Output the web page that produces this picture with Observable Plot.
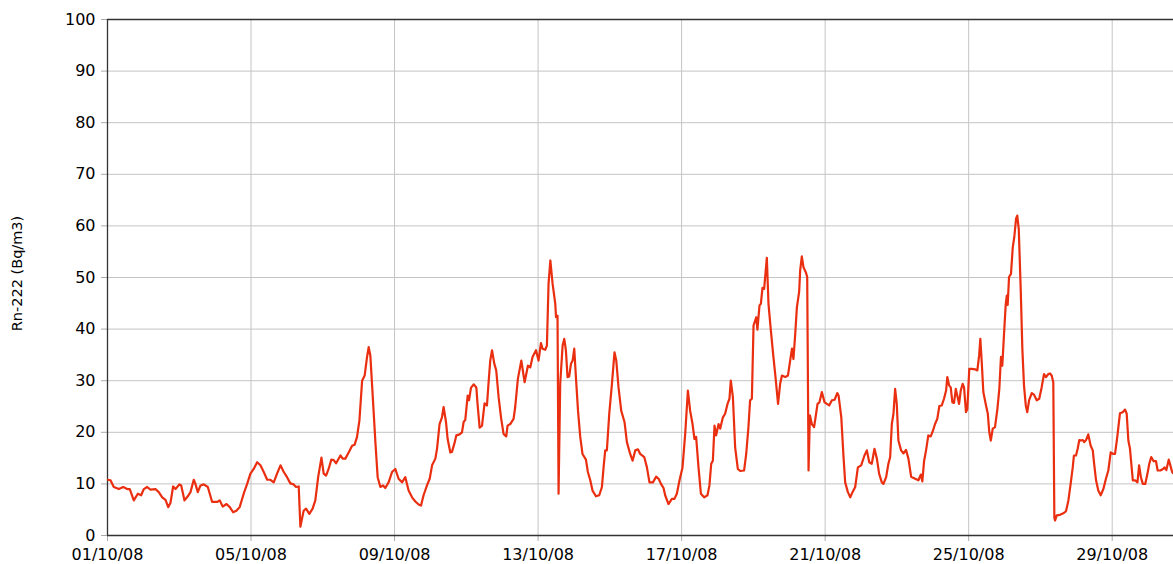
<!DOCTYPE html>
<html><head><meta charset="utf-8">
<script src="https://cdn.jsdelivr.net/npm/d3@7"></script>
<script src="https://cdn.jsdelivr.net/npm/@observablehq/plot@0.6"></script>
<style>html,body{margin:0;padding:0;background:#fff}svg{display:block}</style>
</head><body><div id="chart"></div>
<script>
// hours since 01/10/08 00:00
const hours = [0,2,4.2,7.6,10.5,13.2,14.9,17.6,20.3,22.5,24.3,26.5,28.7,32.1,34.3,36.6,38.8,40.6,42.1,43.9,45.5,48.1,49.3,51.5,53.7,55.5,57.7,58.8,60.4,62.2,64.4,67.1,70,73.3,75.1,77.1,79.6,81.8,84,86.2,88.4,
91.1,93.4,95.6,97.8,100.1,102.3,104.5,106.8,109,111.2,113.4,115.7,117.9,120.1,122.3,124.5,126.1,127.9,129,131.2,132.8,135,137.2,139,140.9,143.1,144.6,146.2,147.9,149.7,151.3,152.9,155.8,157.3,159.1,161.3,163.6,165.3,166.9,168.5,170.3,172,173.6,174.7,175.8,177.4,179.2,
180.7,182.5,184.3,185.8,188,190.3,192.5,194.7,197,199.2,201.4,203.7,205.9,208.1,209.7,211.4,213.7,215.5,217.1,219.3,220.4,222.1,223.7,224.8,226.4,227.5,229.3,230.4,232,233.3,235.5,237.1,238.2,239.3,240.9,241.8,243.1,244.9,246.7,247.5,248.9,250.5,252.2,253.8,254.9,256,257.2,258.7,260,261.6,263.2,264.9,266.7,267.6,269.4,
271.6,272.7,274.5,276.8,279,281.2,282.8,284.3,286.6,288.3,289.9,291,292.8,293.9,295,296.2,297.7,299.5,300,301,301.7,302.8,304.4,305.5,306.6,307.7,308.8,310,311.1,312.2,313.3,314.7,316.2,317.7,320,321.3,322.9,324.4,326.7,328.9,330.7,331.8,332.9,334,335.6,337.4,339.1,340.3,341.8,343.6,345.8,347.4,349.6,351.2,353,354.8,356.3,
359,360.8,362.5,364.8,367,368.6,370.2,371.9,373,375.2,377.5,379.2,380.8,382.6,384.6,386.4,388.2,389.7,391.3,392.6,393.7,395.3,396.9,399.1,401.3,402.6,403.8,404.9,406,407.1,408.7,409.8,411.6,413.1,414.7,416,416.9,418.3,419.8,421.6,423.2,425.8,427.2,428.7,429.8,431,432.1,433.9,434.7,436.1,437,438.1,439.2,441,442.1,443.7,445.4,446.7,448.5,
449.9,451.1,453.3,455.1,456.6,457.8,458.8,460,461.1,462.6,463.3,464.4,465.5,467.1,468,468.9,469.8,471.1,472.6,473.8,474.9,476.2,477.8,479.6,481.2,482.7,484.5,486.3,488.1,489,490.8,492.3,493.4,495.2,496.8,498.3,500.1,501.9,504.1,506.3,507.9,509.5,511.2,513,514.6,516.1,517.9,519,520.8,522.3,523.5,524.6,525.7,526.8,527.9,529,530.8,532.4,534.1,535.7,
537.5,540.2,542.4,544,545,546.2,547.5,549,550.6,552,553.5,555,556.4,558,559.5,560.9,561.7,562.9,564,565.1,566.2,567.4,568.4,569.6,570.7,572,572.9,574.2,575.1,576.4,578,580.3,581.8,583,583.8,584.8,585.8,587.6,588.8,589.8,590.8,592.1,593.6,595.2,596.5,597.6,598.5,599.6,600.8,601.5,602.1,603,604.3,605.5,606.5,607.7,608.5,609.5,610.8,611.9,613,614.2,615.2,616.4,618.2,619.7,621.5,623.2,624.8,626.4,627.7,629.3,630.4,631.5,632.6,
633.3,633.8,634.9,637.1,639.3,641.1,642.7,644.2,645.6,646.4,647.8,648.9,650,651.1,652.3,653.3,654.5,656,657.6,659,659.8,661.2,662.7,664.3,666.1,667.8,669.4,671,672.8,673.9,675.4,677.2,679,680.6,681.7,682.8,683.9,685.1,685.8,687.3,688.9,690,691.2,692.5,694.1,695.6,696.8,698.1,699.7,701.3,702.4,704.2,706,707.1,708.2,709.8,710.9,712.1,713];

// Rn-222 (Bq/m3)
const radon = [10.8,10.7,9.4,9.0,9.4,9.0,9.0,6.8,8.1,7.8,9.0,9.4,8.9,9.0,8.4,7.4,6.9,5.5,6.3,9.5,9.0,9.9,9.7,6.8,7.6,8.4,10.8,10.0,8.4,9.7,9.9,9.4,6.5,6.5,6.8,5.6,6.1,5.5,4.5,4.8,5.5,
8.1,10.0,12.0,12.9,14.2,13.6,12.3,10.8,10.8,10.3,12.0,13.6,12.3,11.3,10.1,9.9,9.4,9.5,1.7,4.8,5.2,4.2,5.2,6.8,11.3,15.1,12.0,11.6,12.9,14.7,14.6,14.0,15.5,14.9,14.9,16.1,17.4,17.6,19.1,22.3,30.0,31.0,34.6,36.5,34.9,27.0,18.0,
11.3,9.4,9.7,9.2,10.3,12.3,12.9,11.0,10.3,11.3,8.7,7.4,6.6,6.0,5.8,7.8,9.7,11.0,13.6,14.9,16.8,21.6,22.9,24.9,22.0,18.7,16.1,16.2,17.8,19.4,19.6,20.0,22.0,22.4,27.1,26.2,28.6,29.3,28.7,25.5,20.9,21.3,25.6,25.2,29.7,33.9,35.9,33.3,32.0,26.8,22.9,19.7,19.2,21.3,21.6,
22.6,24.9,30.4,33.9,29.7,32.9,32.6,34.6,35.9,33.9,37.3,36.2,36.0,36.8,48.8,53.3,48.8,44.9,42.3,42.6,8.1,29.4,36.8,38.1,35.9,30.7,30.8,33.3,33.9,36.2,30.7,24.2,19.1,15.8,14.7,12.3,10.7,8.7,7.6,7.8,9.4,13.2,16.5,16.5,23.6,29.4,35.5,33.9,28.7,24.2,22.0,18.1,15.8,14.5,16.5,16.7,15.8,
15.2,13.2,10.3,10.3,11.4,11.0,10.0,9.2,7.8,6.1,7.1,7.1,8.1,10.7,13.2,19.7,28.1,24.2,21.6,18.7,19.1,13.2,8.1,7.4,7.8,9.7,13.9,14.5,21.3,19.4,21.6,20.7,22.9,23.6,25.5,26.5,30.0,26.8,17.1,12.9,12.5,12.6,15.8,21.0,26.2,26.5,40.7,42.3,39.9,44.6,44.9,48.0,47.8,53.8,44.9,39.7,34.6,31.0,25.5,
29.4,31.0,30.7,31.0,33.9,36.2,34.2,39.1,44.2,47.2,51.4,54.1,52.0,51.0,50.1,12.6,23.3,21.6,21.0,23.3,25.5,25.8,27.8,25.8,25.5,25.2,26.2,26.3,27.6,27.1,22.9,15.2,10.3,8.4,7.4,8.4,9.4,13.2,13.6,15.5,16.5,14.2,13.9,16.8,14.9,12.0,10.3,10.0,11.3,13.9,15.2,21.6,23.6,28.4,25.5,18.4,16.5,15.9,16.6,14.9,
11.4,11.0,10.7,11.8,10.5,14.5,16.5,19.4,19.2,20.2,21.6,22.6,25.1,25.2,26.5,28.1,30.7,29.1,28.7,25.8,25.7,28.4,27.1,25.5,28.1,29.4,28.7,23.9,24.5,32.3,32.3,32.2,32.0,34.9,38.1,33.3,27.8,25.2,23.6,20.0,18.4,20.7,21.0,24.5,28.4,34.6,32.9,38.8,44.9,46.5,44.7,50.1,50.7,55.9,57.8,61.4,62.0,59.4,47.8,36.2,29.1,25.2,23.9,26.2,27.6,27.3,26.2,26.5,28.7,31.3,30.7,31.3,31.4,31.0,29.7,
3.5,2.9,3.9,4.0,4.3,4.7,6.8,10.0,13.2,15.5,15.5,16.8,18.5,18.4,18.5,18.1,18.5,19.6,17.4,16.5,14.2,10.7,8.7,7.8,9.0,11.0,12.6,16.1,15.8,15.8,19.1,23.7,23.9,24.4,23.6,18.4,16.8,12.9,10.7,10.7,10.3,13.6,11.3,10.0,10.0,12.0,13.9,15.2,14.4,14.4,12.6,12.6,12.9,13.2,12.7,14.7,13.6,12.3,12.0];

const tickDays = [1, 5, 9, 13, 17, 21, 25, 29];
const tickLabels = ["01/10/08", "05/10/08", "09/10/08", "13/10/08", "17/10/08", "21/10/08", "25/10/08", "29/10/08"];
const yTicks = [0, 10, 20, 30, 40, 50, 60, 70, 80, 90, 100];
const yLabel = "Rn-222 (Bq/m3)";
const endHour = 713;

const t0 = Date.UTC(2008, 9, 1);
const data = hours.map((h, i) => ({date: new Date(t0 + h * 3600e3), value: radon[i]}));
const tickDates = tickDays.map(d => new Date(Date.UTC(2008, 9, d)));
const labelFor = d => tickLabels[tickDays.indexOf(d.getUTCDate())];

const chart = Plot.plot({
  width: 1173, height: 564,
  marginLeft: 107, marginRight: 0, marginTop: 19, marginBottom: 29,
  style: {fontFamily: "'DejaVu Sans', Verdana, sans-serif", fontSize: "16px", color: "#000", background: "#fff"},
  x: {type: "utc", domain: [new Date(t0), new Date(t0 + endHour * 3600e3)]},
  y: {domain: [0, 100]},
  marks: [
    Plot.ruleY(yTicks.slice(1, -1), {stroke: "#c4c4c4", strokeWidth: 1}),
    Plot.ruleX(tickDates.slice(1), {stroke: "#c4c4c4", strokeWidth: 1, y1: 0, y2: 100}),
    Plot.axisX(tickDates, {tickSize: 6, tickPadding: 7, stroke: "#aaa", fill: "#000", fontSize: 16, tickFormat: labelFor, label: null}),
    Plot.axisY(yTicks, {tickSize: 6, tickPadding: 6, stroke: "#aaa", fill: "#000", fontSize: 16, label: null}),
    Plot.ruleY([0, 100], {stroke: "#333", strokeWidth: 1.3}),
    Plot.ruleX([new Date(t0)], {stroke: "#333", strokeWidth: 1.3}),
    Plot.text([yLabel], {text: d => d, frameAnchor: "left", textAnchor: "middle", dx: -90, dy: -4, rotate: -90, fontSize: 14.5, fill: "#000"}),
    Plot.line(data, {x: "date", y: "value", stroke: "#ea2e10", strokeWidth: 2.2, strokeLinejoin: "round", clip: true})
  ]
});
document.getElementById("chart").append(chart);
</script>
</body></html>
